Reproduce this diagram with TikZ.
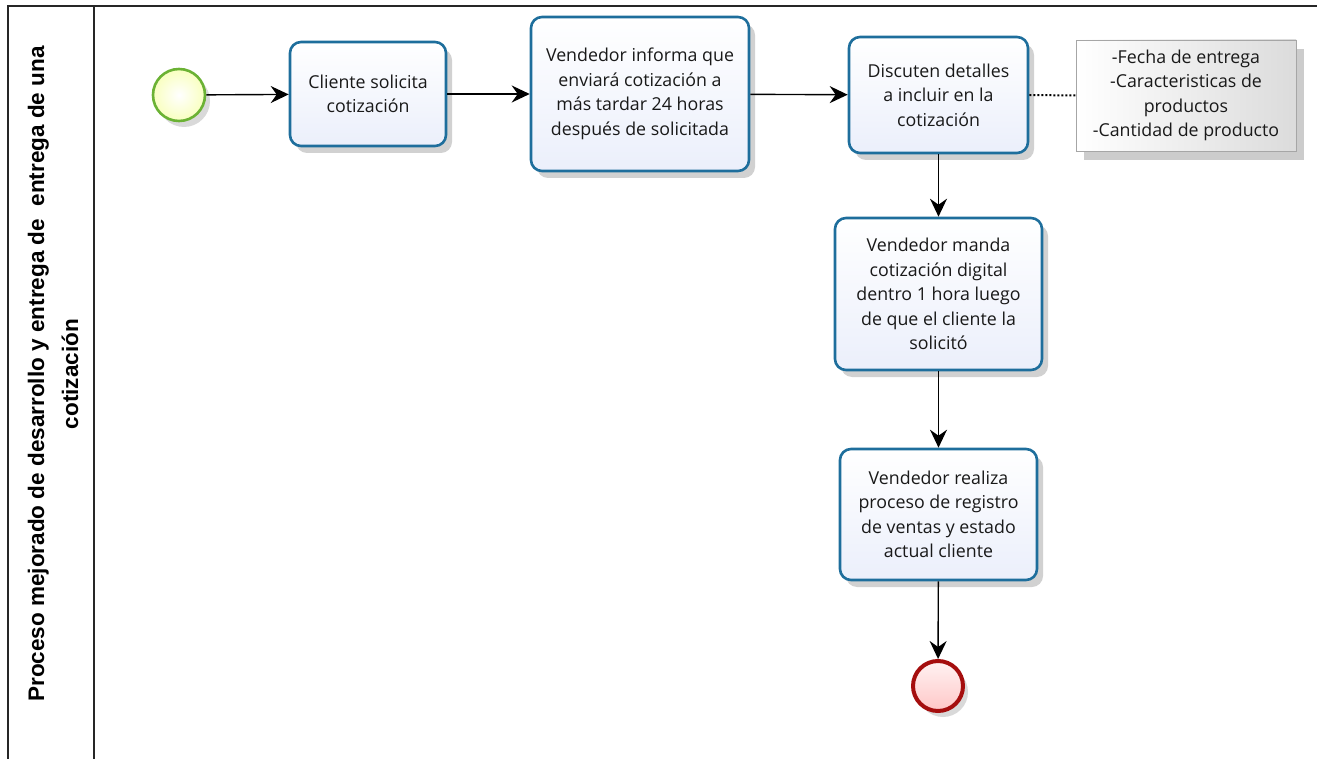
\documentclass[tikz,border=0pt]{standalone}
\usepackage{fontspec}
\setmainfont{Open Sans}
\newfontfamily\lanefont{Liberation Sans}
\usetikzlibrary{arrows.meta,shadows,calc}
\definecolor{taskline}{HTML}{1E6E9C}
\definecolor{taskfill}{HTML}{EBEFFB}
\definecolor{startline}{HTML}{6BB234}
\definecolor{endline}{HTML}{A50E0E}
\definecolor{noteline}{HTML}{A6A6A6}
\tikzset{
  task/.style={draw=taskline, line width=2.6pt, rounded corners=11pt,
    top color=white, bottom color=taskfill, align=center,
    font=\fontsize{17.8}{24.5}\selectfont, text=black!90, inner sep=0pt,
    drop shadow={shadow xshift=6pt, shadow yshift=-7pt, opacity=0.18, fill=black}},
  startev/.style={circle, draw=startline, line width=2.6pt, minimum size=52pt,
    inner sep=0pt, inner color=white, outer color=green!10!yellow!25,
    drop shadow={shadow xshift=5pt, shadow yshift=-6pt, opacity=0.15, fill=black}},
  endev/.style={circle, draw=endline, line width=4pt, minimum size=50pt,
    inner sep=0pt, top color=red!5, bottom color=red!22,
    drop shadow={shadow xshift=5pt, shadow yshift=-6pt, opacity=0.15, fill=black}},
  note/.style={draw=noteline, line width=0.8pt, left color=white, right color=black!14,
    align=center, font=\fontsize{17.8}{24.5}\selectfont, text=black!90, inner sep=0pt,
    drop shadow={shadow xshift=8pt, shadow yshift=-9pt, opacity=0.2, fill=black}},
  flow/.style={line width=1.4pt, -{Stealth[length=18pt, width=17pt, inset=6pt]}},
  assoc/.style={line width=2pt, dotted},
  lane/.style={line width=1.6pt, draw=black!85},
}
\begin{document}
\begin{tikzpicture}[x=1pt, y=-1pt]
\useasboundingbox (0,0) rectangle (1317,759);

% pool frame and lane header
\draw[lane] (8,759) -- (8,6) -- (1317,6);
\draw[lane] (94,6) -- (94,759);
\node[rotate=90, align=center, font=\lanefont\bfseries\fontsize{22.5}{34}\selectfont] (title) at (53,374)
  {Proceso mejorado de desarrollo y entrega de \ entrega de una\\cotización};

% events and tasks
\node[startev] (start) at (179,95) {};
\node[task, minimum width=156pt, minimum height=104pt] (t1) at (368,94)
  {Cliente solicita\\cotización};
\node[task, minimum width=218pt, minimum height=154pt] (t2) at (640,94)
  {Vendedor informa que\\enviará cotización a\\más tardar 24 horas\\después de solicitada};
\node[task, minimum width=179pt, minimum height=116pt] (t3) at (938.5,95)
  {Discuten detalles\\a incluir en la\\cotización};
\node[note, minimum width=220pt, minimum height=111pt] (n1) at (1186,95.5)
  {-Fecha de entrega\\-Caracteristicas de\\productos\\-Cantidad de producto};
\node[task, minimum width=207pt, minimum height=152pt] (t4) at (938.5,294)
  {Vendedor manda\\cotización digital\\dentro 1 hora luego\\de que el cliente la\\solicitó};
\node[task, minimum width=197pt, minimum height=131pt] (t5) at (938.5,514.5)
  {Vendedor realiza\\proceso de registro\\de ventas y estado\\actual cliente};
\node[endev] (end) at (938,686) {};

% sequence flows
\draw[flow] (start) -- (t1);
\draw[flow] (t1) -- (t2);
\draw[flow] (t2) -- (t3);
\draw[flow] (t3) -- (t4);
\draw[flow] (t4) -- (t5);
\draw[flow] (t5) -- (end);
% association to the annotation
\draw[assoc] (t3.east) -- (n1.west);
\end{tikzpicture}
\end{document}
